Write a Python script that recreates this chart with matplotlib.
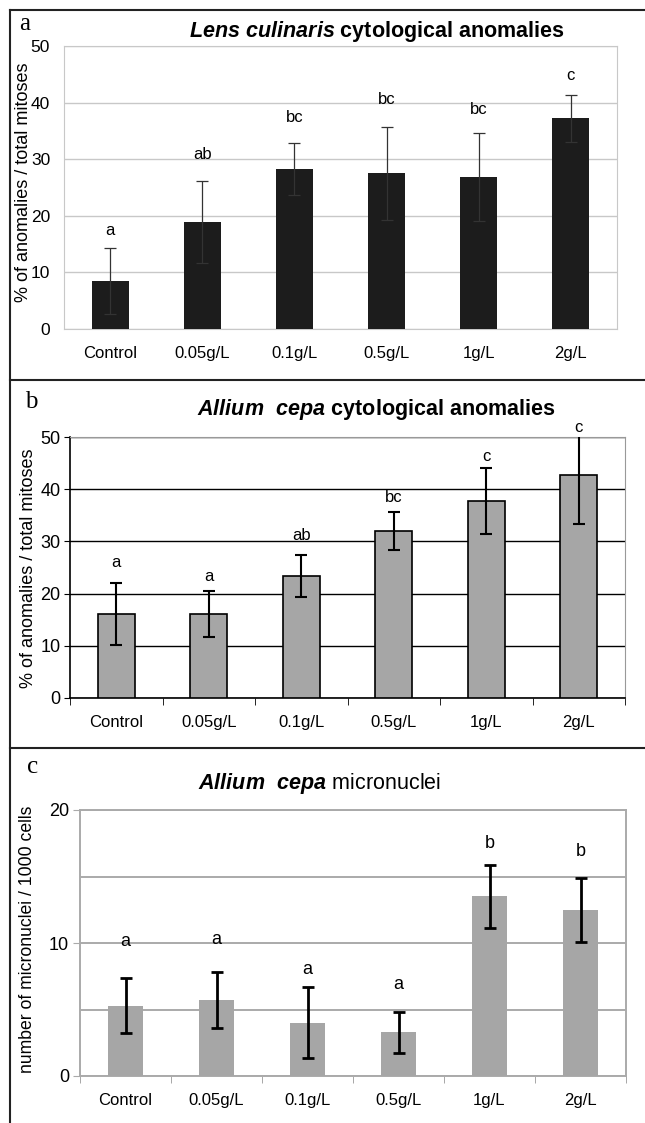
import matplotlib
matplotlib.use("Agg")
import matplotlib.pyplot as plt
from matplotlib.lines import Line2D
import numpy as np

plt.rcParams['font.family'] = ['Liberation Sans', 'DejaVu Sans']
# bold italic species names inside the titles
plt.rcParams['mathtext.fontset'] = 'custom'
plt.rcParams['mathtext.it'] = 'Liberation Sans:italic:bold'
plt.rcParams['mathtext.rm'] = 'Liberation Sans:bold'

# data
doses = ["Control", "0.05g/L", "0.1g/L", "0.5g/L", "1g/L", "2g/L"]

lens_mean = [8.5, 18.9, 28.3, 27.5, 26.9, 37.2]
lens_err = [5.8, 7.3, 4.6, 8.2, 7.8, 4.1]
lens_sig = ["a", "ab", "bc", "bc", "bc", "c"]
lens_sig_y = [17.4, 30.8, 37.4, 40.5, 38.8, 44.7]

allium_mean = [16.1, 16.1, 23.4, 32.0, 37.7, 42.7]
allium_err = [5.9, 4.4, 4.05, 3.65, 6.3, 9.3]
allium_sig = ["a", "a", "ab", "bc", "c", "c"]
allium_sig_y = [25.9, 23.3, 31.1, 38.4, 46.3, 51.8]

micro_mean = [5.3, 5.7, 4.0, 3.3, 13.5, 12.5]
micro_err = [2.07, 2.1, 2.68, 1.54, 2.4, 2.4]
micro_sig = ["a", "a", "a", "a", "b", "b"]
micro_sig_y = [10.1, 10.3, 8.0, 6.9, 17.5, 16.9]

W, H = 645, 1123
fig = plt.figure(figsize=(W / 100, H / 100), dpi=100)


def rect(l, r, t, b):
    return [l / W, 1 - b / H, (r - l) / W, (b - t) / H]


def ftext(x, y, s, **kw):
    fig.text(x / W, 1 - y / H, s, **kw)


x = np.arange(len(doses))

# ---- panel a ----
ax1 = fig.add_axes(rect(64, 617, 46, 329))
ax1.bar(x, lens_mean, width=0.4, color="#1c1c1c", zorder=3)
ax1.errorbar(x, lens_mean, yerr=lens_err, fmt="none", ecolor="#333333",
             elinewidth=0.9, capsize=4, capthick=0.9, zorder=4)
for i, s in enumerate(lens_sig):
    ax1.text(x[i], lens_sig_y[i], s, ha="center", va="center", fontsize=12)
ax1.set_xlim(-0.5, 5.5)
ax1.set_ylim(0, 50)
ax1.set_yticks(range(0, 51, 10))
ax1.set_xticks(x)
ax1.set_xticklabels(doses)
ax1.tick_params(length=0, labelsize=12.5)
ax1.tick_params(axis="x", pad=12, labelsize=12)
ax1.tick_params(axis="y", pad=10)
ax1.yaxis.grid(True, color="#c8c8c8", lw=1)
ax1.set_axisbelow(True)
for sp in ax1.spines.values():
    sp.set_color("#c8c8c8")

# ---- panel b ----
ax2 = fig.add_axes(rect(70, 625, 437, 698))
ax2.bar(x, allium_mean, width=0.4, color="#a6a6a6", edgecolor="black",
        linewidth=1.2, zorder=3)
ax2.errorbar(x, allium_mean, yerr=allium_err, fmt="none", ecolor="black",
             elinewidth=1.5, capsize=4, capthick=1.5, zorder=4)
for i, s in enumerate(allium_sig):
    ax2.text(x[i], allium_sig_y[i], s, ha="center", va="center",
             fontsize=12, clip_on=False)
ax2.set_xlim(-0.5, 5.5)
ax2.set_ylim(0, 50)
ax2.set_yticks(range(0, 51, 10))
ax2.set_xticks(x)
ax2.set_xticklabels(doses)
ax2.set_xticks(np.arange(-0.5, 6, 1), minor=True)
ax2.tick_params(axis="x", which="major", length=0, pad=12, labelsize=12)
ax2.tick_params(axis="x", which="minor", length=5, direction="out")
ax2.tick_params(axis="y", length=4, direction="out", labelsize=13, pad=3)
ax2.yaxis.grid(True, color="black", lw=1)
ax2.set_axisbelow(True)
ax2.spines["top"].set_color("#999999")
ax2.spines["right"].set_color("#999999")
ax2.spines["left"].set_linewidth(1.2)
ax2.spines["bottom"].set_linewidth(1.2)

# ---- panel c ----
ax3 = fig.add_axes(rect(80, 626, 810, 1076))
ax3.bar(x, micro_mean, width=0.39, color="#a6a6a6", zorder=3)
ax3.errorbar(x, micro_mean, yerr=micro_err, fmt="none", ecolor="black",
             elinewidth=2, capsize=4, capthick=2, zorder=4)
for i, s in enumerate(micro_sig):
    ax3.text(x[i], micro_sig_y[i], s, ha="center", va="center", fontsize=13)
ax3.set_xlim(-0.5, 5.5)
ax3.set_ylim(0, 20)
ax3.set_yticks([0, 10, 20])
ax3.set_yticks([5, 15], minor=True)
ax3.set_xticks(x)
ax3.set_xticklabels(doses)
ax3.set_xticks(np.arange(-0.5, 6, 1), minor=True)
ax3.tick_params(axis="x", which="major", length=0, pad=12, labelsize=12)
ax3.tick_params(axis="x", which="minor", length=5, direction="out", color="#999999")
ax3.tick_params(axis="y", which="major", length=5, direction="out",
                color="#aaaaaa", labelsize=13, pad=3)
ax3.tick_params(axis="y", which="minor", length=0)
ax3.yaxis.grid(True, which="both", color="#aaaaaa", lw=1.4)
ax3.set_axisbelow(True)
for sp in ax3.spines.values():
    sp.set_color("#aaaaaa")
    sp.set_linewidth(1.4)

# titles
title_kw = dict(ha="center", va="center", fontsize=15.5)
ftext(377, 32, r"$Lens\ culinaris$" + " cytological anomalies",
      fontweight="bold", **title_kw)
ftext(376, 410, r"$Allium\ \ cepa$" + " cytological anomalies",
      fontweight="bold", **title_kw)
ftext(320, 784, r"$Allium\ \ cepa$" + " micronuclei", **title_kw)

# y labels
ftext(24, 182, "% of anomalies / total mitoses", rotation=90,
      ha="center", va="center", fontsize=13)
ftext(29, 568, "% of anomalies / total mitoses", rotation=90,
      ha="center", va="center", fontsize=13)
ftext(28, 939, "number of micronuclei / 1000 cells", rotation=90,
      ha="center", va="center", fontsize=12.7)

# panel letters
ftext(25, 24, "a", family="Liberation Serif", fontsize=18, ha="center", va="center")
ftext(31, 402, "b", family="Liberation Serif", fontsize=18, ha="center", va="center")
ftext(33, 767, "c", family="Liberation Serif", fontsize=18, ha="center", va="center")

# panel frames
frame_kw = dict(color="#222222", lw=1.5, transform=fig.transFigure)
for y0 in [10, 380, 748]:
    fig.add_artist(Line2D([10 / W, 1], [1 - y0 / H, 1 - y0 / H], **frame_kw))
fig.add_artist(Line2D([10 / W, 10 / W], [1 - 10 / H, 0], **frame_kw))

fig.savefig("out.png", dpi=100)
